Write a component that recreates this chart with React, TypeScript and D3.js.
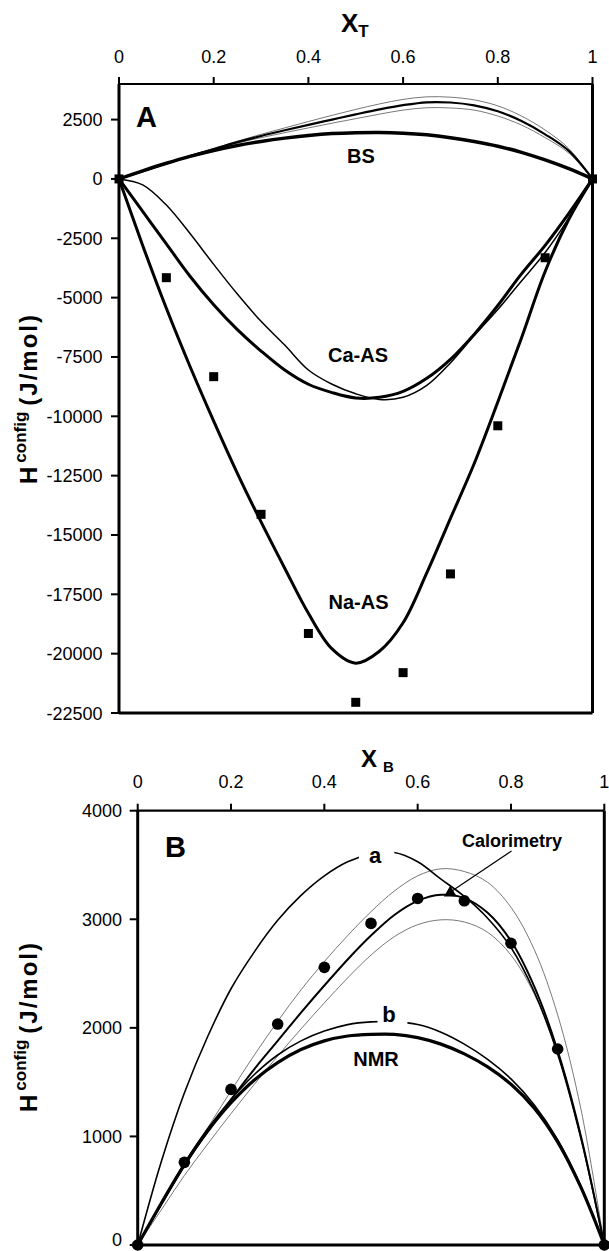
import React from 'react';
import * as d3 from 'd3';

// shared composition grid (x = X_T for panel A, X_B for panel B)
const gridX = [0, 0.05, 0.1, 0.15, 0.2, 0.25, 0.3, 0.35, 0.4, 0.45, 0.5, 0.55, 0.6, 0.65, 0.7, 0.75, 0.8, 0.85, 0.9, 0.95, 1];

// ---- Panel A series (J/mol) ----
const bsCurve = [0, 340, 660, 950, 1200, 1410, 1580, 1720, 1830, 1910, 1950, 1960, 1930, 1860, 1740, 1580, 1380, 1120, 800, 430, 0];
const calMidA = [0, 330, 650, 960, 1260, 1550, 1810, 2050, 2280, 2500, 2720, 2930, 3110, 3230, 3220, 3100, 2850, 2440, 1880, 1180, 0];
const calHighA = [0, 330, 655, 975, 1280, 1590, 1880, 2150, 2420, 2680, 2930, 3160, 3350, 3460, 3445, 3330, 3080, 2650, 2060, 1280, 0];
const calLowA = [0, 325, 645, 945, 1240, 1510, 1740, 1950, 2150, 2350, 2540, 2730, 2900, 3000, 2990, 2900, 2650, 2270, 1740, 1090, 0];
const caAsThick = [0, -1370, -2740, -4100, -5300, -6350, -7250, -8050, -8650, -9000, -9230, -9200, -8950, -8400, -7600, -6550, -5330, -4000, -2800, -1450, 0];
const caAsThin = [0, -250, -1100, -2300, -3600, -4850, -6000, -7000, -8050, -8650, -9050, -9290, -9200, -8700, -7750, -6600, -5500, -4300, -3100, -1650, 0];
const naAsCurve = [0, -2800, -5450, -7900, -10200, -12400, -14450, -16400, -18300, -19800, -20400, -19900, -18700, -16600, -14300, -12000, -9400, -6700, -3900, -1700, 0];
const naDotsX = [0, 0.1, 0.2, 0.3, 0.4, 0.5, 0.6, 0.7, 0.8, 0.9, 1];
const naDotsY = [0, -4160, -8330, -14130, -19150, -22050, -20800, -16640, -10400, -3320, 0];

// ---- Panel B series (J/mol) ----
const calFitB = [0, 370, 730, 1050, 1340, 1620, 1880, 2140, 2390, 2630, 2850, 3040, 3170, 3225, 3195, 3060, 2800, 2380, 1790, 1000, 0];
const calUpperB = [0, 370, 730, 1080, 1420, 1750, 2060, 2350, 2610, 2850, 3070, 3260, 3400, 3465, 3440, 3340, 3110, 2720, 2120, 1250, 0];
const calLowerB = [0, 320, 640, 930, 1210, 1480, 1740, 1990, 2230, 2460, 2670, 2840, 2950, 2995, 2975, 2880, 2670, 2310, 1760, 1000, 0];
const curveA = [0, 760, 1400, 1920, 2360, 2700, 2990, 3220, 3400, 3530, 3600, 3615, 3530, 3370, 3210, 3010, 2740, 2330, 1760, 980, 0];
const curveB = [0, 380, 750, 1070, 1340, 1570, 1750, 1880, 1970, 2030, 2055, 2055, 2030, 1960, 1850, 1710, 1530, 1290, 970, 540, 0];
const nmrCurve = [0, 380, 740, 1050, 1310, 1520, 1680, 1800, 1880, 1925, 1940, 1940, 1910, 1850, 1760, 1640, 1480, 1260, 950, 530, 0];
const calDotsX = [0, 0.1, 0.2, 0.3, 0.4, 0.5, 0.6, 0.7, 0.8, 0.9, 1];
const calDotsY = [0, 761, 1433, 2035, 2557, 2962, 3192, 3170, 2779, 1805, 0];
const calorimetryPoint = [0.67, 3253];

// ---- ticks ----
const xTicks = [0, 0.2, 0.4, 0.6, 0.8, 1];
const xTickLabels = ['0', '0.2', '0.4', '0.6', '0.8', '1'];
const yTicksA = [2500, 0, -2500, -5000, -7500, -10000, -12500, -15000, -17500, -20000, -22500];
const yTicksB = [0, 1000, 2000, 3000, 4000];

const FONT = '"Liberation Sans", Arial, Helvetica, sans-serif';

export default function App() {
  const xA = d3.scaleLinear().domain([0, 1]).range([119, 592.5]);
  const yA = d3.scaleLinear().domain([-22500, 4000]).range([713, 84]);
  const xB = d3.scaleLinear().domain([0, 1]).range([137.7, 604.3]);
  const yB = d3.scaleLinear().domain([0, 4000]).range([1245, 810.7]);

  const mkLine = (xs: any, ys: any) =>
    (vals: number[]) =>
      d3.line<number>()
        .x((_, i) => xs(gridX[i]))
        .y((d) => ys(d))
        .curve(d3.curveCatmullRom.alpha(0.5))(vals) || '';
  const lineA = mkLine(xA, yA);
  const lineB = mkLine(xB, yB);

  const [x0A, x1A] = xA.range();
  const [y0A, y1A] = [yA(4000), yA(-22500)];
  const [x0B, x1B] = xB.range();
  const [y0B, y1B] = [yB(4000), yB(0)];

  const tri = d3.symbol().type(d3.symbolTriangle).size(70)() || '';

  return (
    <svg width={609} height={1251} style={{ position: 'absolute', left: 0, top: 0, background: '#fff' }}
      fontFamily={FONT}>
      <rect x={0} y={0} width={609} height={1251} fill="#fff" />

      {/* ================= PANEL A ================= */}
      <text x={341} y={32} fontSize={26} fontWeight="bold">X<tspan fontSize={17} dy={5}>T</tspan></text>
      {xTicks.map((t, i) => (
        <g key={'xa' + i}>
          <line x1={xA(t)} x2={xA(t)} y1={y0A} y2={y0A - 7} stroke="#000" strokeWidth={2} />
          <text x={xA(t)} y={62.5} fontSize={18} textAnchor="middle">{xTickLabels[i]}</text>
        </g>
      ))}
      {yTicksA.map((t) => (
        <g key={'ya' + t}>
          <line x1={x0A - 8} x2={x0A} y1={yA(t)} y2={yA(t)} stroke="#000" strokeWidth={2} />
          <text x={102.5} y={yA(t) + 6.5} fontSize={18} textAnchor="end">{t}</text>
        </g>
      ))}
      <line x1={x0A} x2={x1A} y1={y0A} y2={y0A} stroke="#000" strokeWidth={2.2} />
      <line x1={x0A} x2={x1A} y1={y1A} y2={y1A} stroke="#000" strokeWidth={3} />
      <line x1={x0A} x2={x0A} y1={y0A} y2={y1A} stroke="#000" strokeWidth={3} />
      <line x1={x1A} x2={x1A} y1={y0A} y2={y1A} stroke="#000" strokeWidth={3} />

      <g transform={`translate(37,484) rotate(-90)`}>
        <text x={0} y={0} fontWeight="bold" fontSize={24}>
          H<tspan fontSize={17} dy={-11} dx={4}>config</tspan>
          <tspan dy={11} dx={6} letterSpacing={2}>(J/mol)</tspan>
        </text>
      </g>

      <g fill="none" stroke="#000" strokeLinejoin="round" strokeLinecap="round">
        <path d={lineA(calHighA)} strokeWidth={0.8} stroke="#555" />
        <path d={lineA(calLowA)} strokeWidth={0.8} stroke="#555" />
        <path d={lineA(calMidA)} strokeWidth={2.2} />
        <path d={lineA(bsCurve)} strokeWidth={3.5} />
        <path d={lineA(caAsThin)} strokeWidth={1.5} />
        <path d={lineA(caAsThick)} strokeWidth={3} />
        <path d={lineA(naAsCurve)} strokeWidth={3} />
      </g>
      {naDotsX.map((x, i) => (
        <rect key={'nd' + i} x={xA(x) - 4.5} y={yA(naDotsY[i]) - 4.5} width={9} height={9} fill="#000" />
      ))}
      <text x={136} y={127} fontSize={29} fontWeight="bold">A</text>
      <text x={361} y={163} fontSize={20} fontWeight="bold" textAnchor="middle">BS</text>
      <text x={358} y={361.5} fontSize={20} fontWeight="bold" textAnchor="middle">Ca-AS</text>
      <text x={358.5} y={608.5} fontSize={20} fontWeight="bold" textAnchor="middle">Na-AS</text>

      {/* ================= PANEL B ================= */}
      <text x={361} y={767} fontSize={24} fontWeight="bold">X<tspan fontSize={15} dy={5} dx={6}>B</tspan></text>
      {xTicks.map((t, i) => (
        <g key={'xb' + i}>
          <line x1={xB(t)} x2={xB(t)} y1={y0B} y2={y0B - 7} stroke="#000" strokeWidth={2} />
          <text x={xB(t)} y={788} fontSize={18} textAnchor="middle">{xTickLabels[i]}</text>
        </g>
      ))}
      {yTicksB.map((t) => (
        <g key={'yb' + t}>
          <line x1={x0B - 8} x2={x0B} y1={yB(t)} y2={yB(t)} stroke="#000" strokeWidth={2} />
          <text x={122} y={Math.min(yB(t) + 6.5, 1246)} fontSize={18} textAnchor="end">{t}</text>
        </g>
      ))}
      <line x1={x0B} x2={x1B} y1={y0B} y2={y0B} stroke="#000" strokeWidth={2.2} />
      <line x1={x0B} x2={x1B} y1={y1B} y2={y1B} stroke="#000" strokeWidth={3} />
      <line x1={x0B} x2={x0B} y1={y0B} y2={y1B} stroke="#000" strokeWidth={3} />
      <line x1={x1B} x2={x1B} y1={y0B} y2={y1B} stroke="#000" strokeWidth={3} />

      <g transform={`translate(37,1112) rotate(-90)`}>
        <text x={0} y={0} fontWeight="bold" fontSize={24}>
          H<tspan fontSize={17} dy={-11} dx={4}>config</tspan>
          <tspan dy={11} dx={6} letterSpacing={2}>(J/mol)</tspan>
        </text>
      </g>

      <g fill="none" stroke="#000" strokeLinejoin="round" strokeLinecap="round">
        <path d={lineB(calUpperB)} strokeWidth={0.8} stroke="#555" />
        <path d={lineB(calLowerB)} strokeWidth={0.8} stroke="#555" />
        <path d={lineB(curveA)} strokeWidth={1.6} />
        <path d={lineB(curveB)} strokeWidth={1.6} />
        <path d={lineB(nmrCurve)} strokeWidth={3.2} />
        <path d={lineB(calFitB)} strokeWidth={2} />
      </g>
      {/* label gaps */}
      <rect x={xB(0.474)} y={845} width={xB(0.55) - xB(0.474)} height={20} fill="#fff" />
      <rect x={xB(0.514)} y={1012} width={xB(0.578) - xB(0.514)} height={17} fill="#fff" />
      {calDotsX.map((x, i) => (
        <circle key={'cd' + i} cx={xB(x)} cy={yB(calDotsY[i])} r={5.8} fill="#000" />
      ))}
      <path d={tri} transform={`translate(${xB(calorimetryPoint[0])},${yB(calorimetryPoint[1]) + 1})`} fill="#000" />
      <line x1={511.5} y1={851} x2={xB(calorimetryPoint[0]) + 2} y2={yB(calorimetryPoint[1]) - 1} stroke="#000" strokeWidth={1.2} />
      <text x={165} y={857} fontSize={29} fontWeight="bold">B</text>
      <text x={512} y={847} fontSize={18} fontWeight="bold" textAnchor="middle">Calorimetry</text>
      <text x={375} y={863} fontSize={22} fontWeight="bold" textAnchor="middle">a</text>
      <text x={389} y={1021.5} fontSize={22} fontWeight="bold" textAnchor="middle">b</text>
      <text x={376} y={1066} fontSize={20} fontWeight="bold" textAnchor="middle">NMR</text>
    </svg>
  );
}
